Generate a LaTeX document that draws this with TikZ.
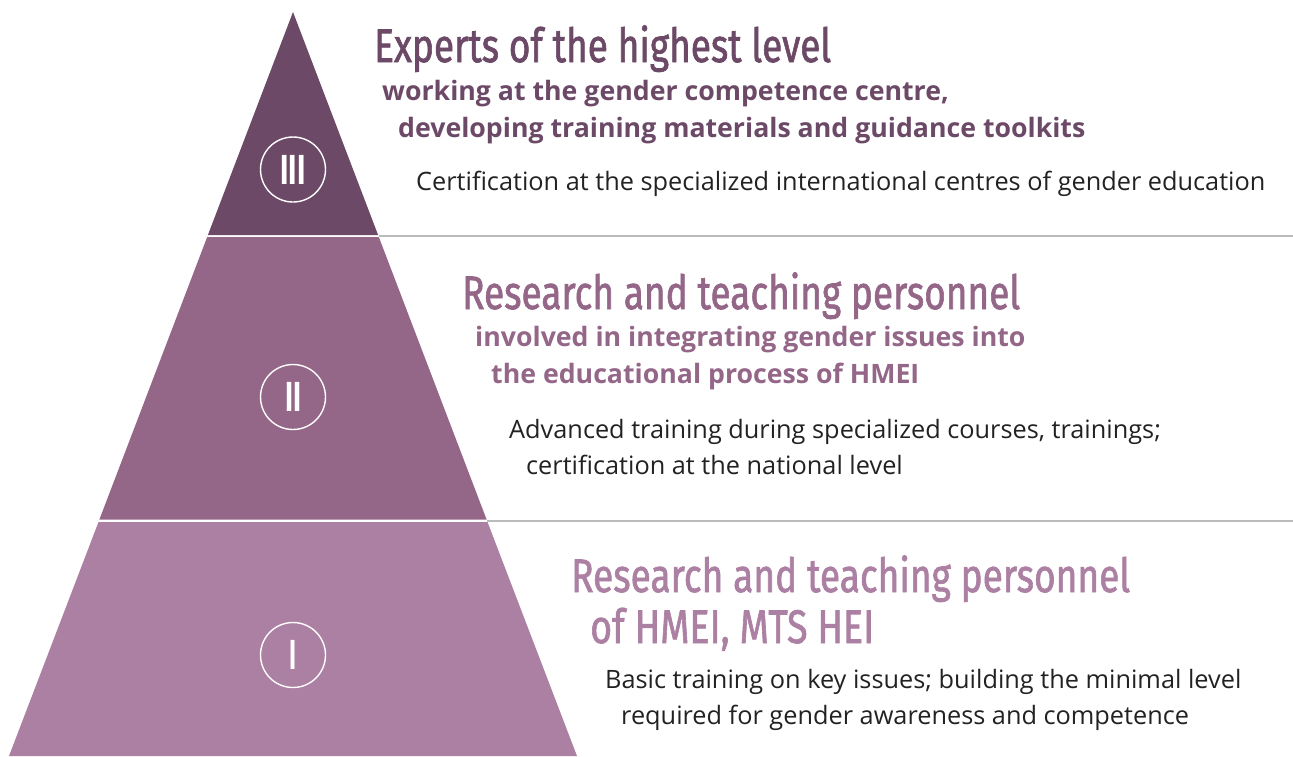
\documentclass[tikz,border=0pt]{standalone}
\usepackage{fontspec}
\usepackage{graphicx}
\setmainfont{Open Sans}
\newfontfamily\ttlfont{Fira Sans}[FakeBold=1.6]
\newfontfamily\numfont{Fira Sans}
\definecolor{cthree}{HTML}{6C4A67}
\definecolor{ctwo}{HTML}{946688}
\definecolor{cone}{HTML}{AC80A3}
\definecolor{bodytext}{HTML}{222222}
\definecolor{rulegray}{HTML}{BBBBBB}
\newcommand{\ttlbox}[2]{\resizebox{#1}{\height}{\fontsize{47pt}{47pt}\ttlfont #2}}
\newcommand{\numbox}[2]{\resizebox{#1}{\height}{\fontsize{42pt}{42pt}\numfont\bfseries #2}}
\tikzset{
  tier/.style={draw=none},
  ttl/.style={anchor=base west, inner sep=0pt},
  sub/.style={anchor=base west, inner sep=0pt, font=\fontsize{26.7pt}{30pt}\selectfont\bfseries},
  bodyt/.style={anchor=base west, inner sep=0pt, text=bodytext, font=\fontsize{25.3pt}{29pt}\selectfont},
  ring/.style={circle, draw=white, line width=1.4pt, minimum size=65pt, inner sep=0pt, text=white},
  sepline/.style={draw=rulegray, line width=1.8pt}
}
\begin{document}
\begin{tikzpicture}[x=1pt, y=-1pt]
\useasboundingbox (0,0) rectangle (1293,756);
% tiers
\fill[cthree] (293,12) -- (378.1,235) -- (207.9,235) -- cycle;
\fill[ctwo] (378.9,237.2) -- (486.6,519.5) -- (99.4,519.5) -- (207.1,237.2) -- cycle;
\fill[cone] (487.5,522) -- (577,756) -- (9,756) -- (98.5,522) -- cycle;
% separator lines
\coordinate (s3a) at (378.5,236.2);
\coordinate (s3b) at (1293,236.2);
\coordinate (s2a) at (487,520.8);
\coordinate (s2b) at (1293,520.8);
\draw[sepline] (s3a) -- (s3b);
\draw[sepline] (s2a) -- (s2b);
% numerals
\node[ring] (n3) at (293,169.5) {\numbox{25pt}{III}};
\node[ring] (n2) at (293,397) {\numbox{16pt}{II}};
\node[ring] (n1) at (293,655) {\numbox{7pt}{I}};
% level III
\node[ttl, text=cthree] (t3) at (374,62) {\ttlbox{457pt}{Experts of the highest level}};
\node[sub, text=cthree] (s3l1) at (382,100) {working at the gender competence centre,};
\node[sub, text=cthree] (s3l2) at (398,137) {developing training materials and guidance toolkits};
\node[bodyt] (b3) at (416,190) {Certification at the specialized international centres of gender education};
% level II
\node[ttl, text=ctwo] (t2) at (462,309) {\ttlbox{558pt}{Research and teaching personnel}};
\node[sub, text=ctwo] (s2l1) at (475,346) {involved in integrating gender issues into};
\node[sub, text=ctwo] (s2l2) at (491,383) {the educational process of HMEI};
\node[bodyt] (b2l1) at (509,438) {Advanced training during specialized courses, trainings;};
\node[bodyt] (b2l2) at (526,474) {certification at the national level};
% level I
\node[ttl, text=cone] (t1a) at (571,592) {\ttlbox{559pt}{Research and teaching personnel}};
\node[ttl, text=cone] (t1b) at (590,643) {\ttlbox{284pt}{of HMEI, MTS HEI}};
\node[bodyt] (b1l1) at (605,688) {Basic training on key issues; building the minimal level};
\node[bodyt] (b1l2) at (621,724) {required for gender awareness and competence};
\end{tikzpicture}
\end{document}
